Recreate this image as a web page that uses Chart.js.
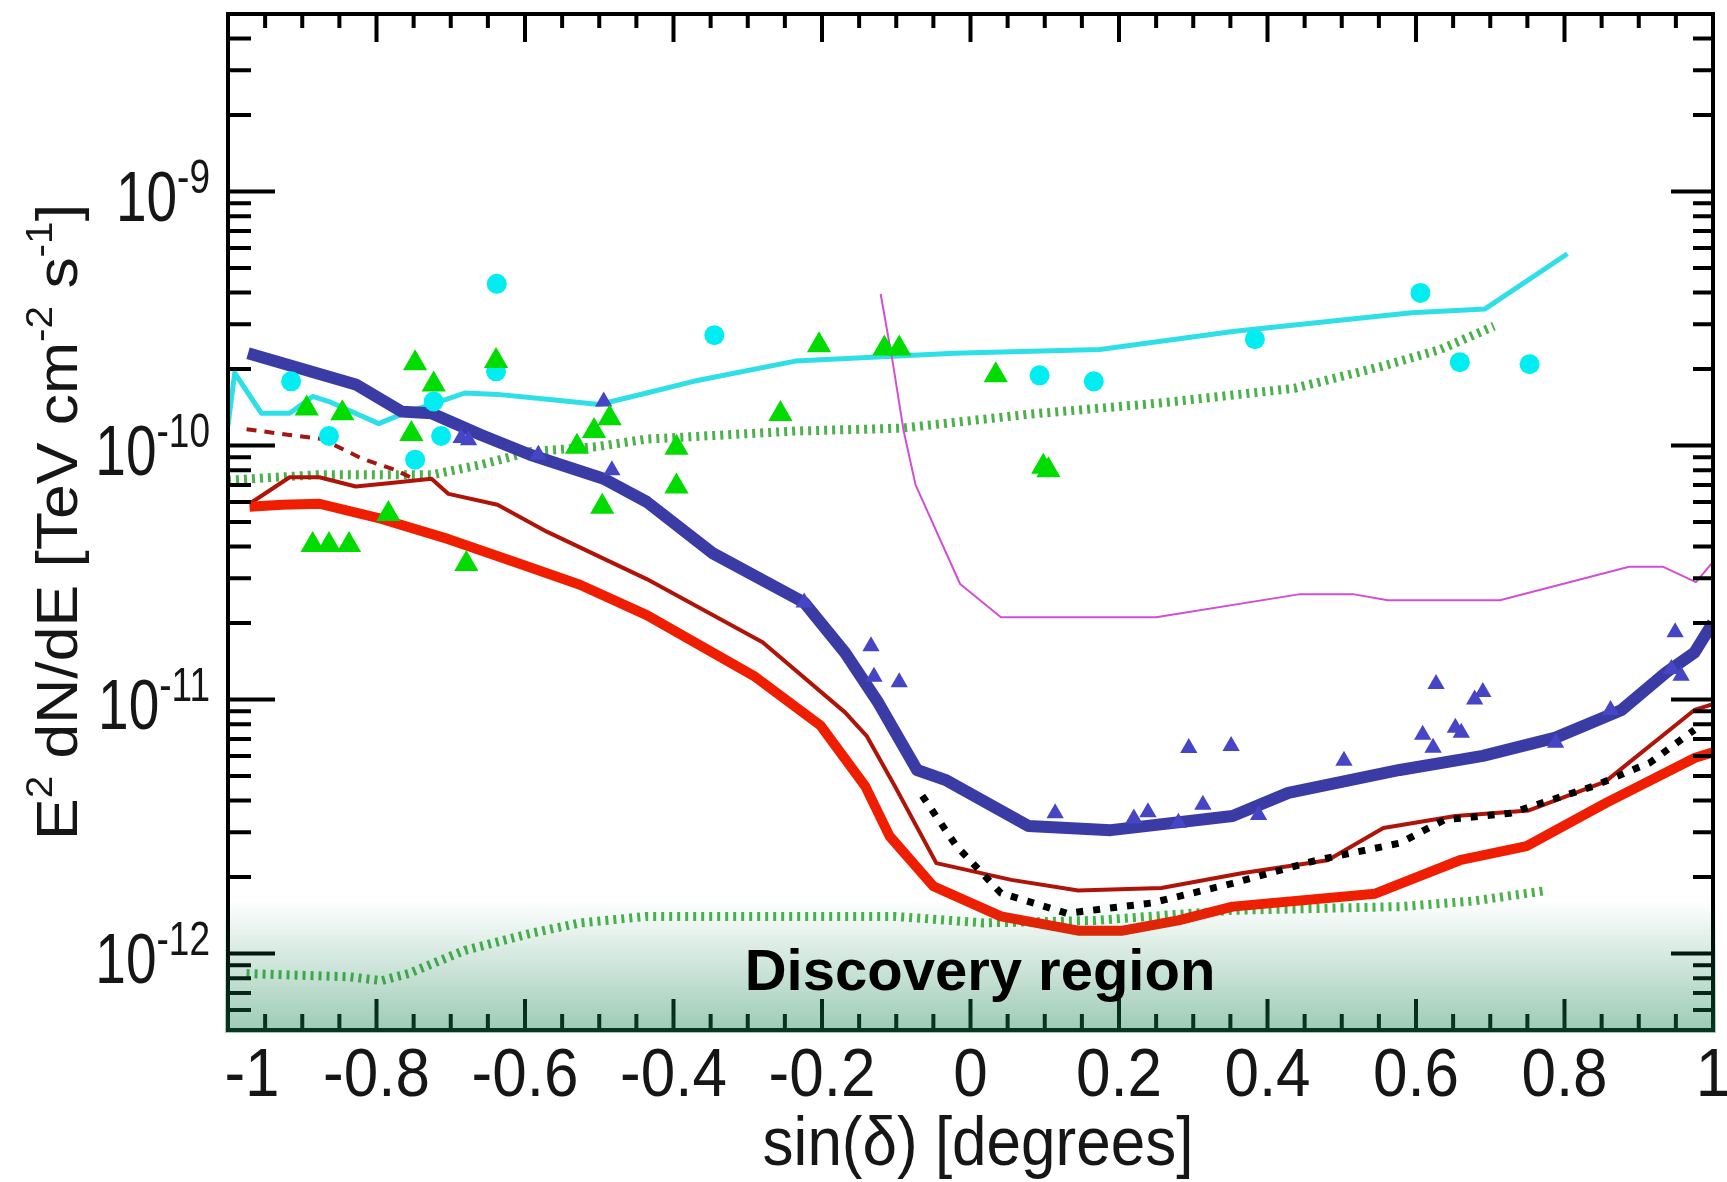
<!DOCTYPE html>
<html>
<head>
<meta charset="utf-8">
<title>E2 dN/dE vs sin(δ)</title>
<script src="https://cdn.jsdelivr.net/npm/chart.js@4.4.0/dist/chart.umd.min.js"></script>
<style>
  html, body { margin: 0; padding: 0; background: #fff; }
  #wrap { position: relative; width: 1727px; height: 1182px; }
</style>
</head>
<body>
<div id="wrap"><canvas id="chart"></canvas></div>
<script>
// axis ranges and labels
const xMin = -1, xMax = 1;
const yMin = 5e-13, yMax = 5e-9;
const xTickValues = [-1, -0.8, -0.6, -0.4, -0.2, 0, 0.2, 0.4, 0.6, 0.8, 1];
const xTickLabels = ['-1', '-0.8', '-0.6', '-0.4', '-0.2', '0', '0.2', '0.4', '0.6', '0.8', '1'];
const yDecades = [-12, -11, -10, -9];
const yDecadeLabels = ['-12', '-11', '-10', '-9'];

// series, [sin(dec), flux]
const cyanLine = [[-1.0, 1.2e-10], [-0.991, 1.93e-10], [-0.955, 1.34e-10], [-0.917, 1.34e-10], [-0.886, 1.56e-10],
  [-0.864, 1.49e-10], [-0.797, 1.22e-10], [-0.766, 1.33e-10], [-0.703, 1.53e-10], [-0.681, 1.61e-10],
  [-0.637, 1.59e-10], [-0.570, 1.52e-10], [-0.500, 1.45e-10], [-0.436, 1.61e-10], [-0.373, 1.79e-10],
  [-0.236, 2.15e-10], [-0.022, 2.31e-10], [0.174, 2.39e-10], [0.356, 2.82e-10], [0.594, 3.33e-10],
  [0.693, 3.45e-10], [0.804, 5.69e-10]];

const cyanPoints = [[-0.915, 1.79e-10], [-0.864, 1.09e-10], [-0.748, 8.8e-11], [-0.723, 1.49e-10],
  [-0.713, 1.09e-10], [-0.639, 1.96e-10], [-0.638, 4.33e-10], [-0.345, 2.72e-10], [0.093, 1.89e-10],
  [0.166, 1.79e-10], [0.383, 2.62e-10], [0.606, 3.99e-10], [0.659, 2.13e-10], [0.753, 2.09e-10]];

const greenPoints = [[-0.894, 1.40e-10], [-0.846, 1.34e-10], [-0.886, 4.06e-11], [-0.864, 4.06e-11],
  [-0.837, 4.06e-11], [-0.784, 5.38e-11], [-0.753, 1.11e-10], [-0.748, 2.11e-10], [-0.723, 1.74e-10],
  [-0.679, 3.42e-11], [-0.639, 2.15e-10], [-0.530, 9.9e-11], [-0.507, 1.14e-10], [-0.486, 1.28e-10],
  [-0.496, 5.74e-11], [-0.396, 9.8e-11], [-0.396, 6.9e-11], [-0.256, 1.33e-10], [-0.204, 2.48e-10],
  [-0.116, 2.41e-10], [-0.096, 2.41e-10], [0.034, 1.89e-10], [0.098, 8.26e-11], [0.105, 8.0e-11]];

const bluePoints = [[-0.686, 1.07e-10], [-0.676, 1.05e-10], [-0.582, 9.2e-11], [-0.494, 1.49e-10],
  [-0.483, 8.0e-11], [-0.224, 2.41e-11], [-0.134, 1.62e-11], [-0.130, 1.23e-11], [-0.096, 1.17e-11],
  [0.114, 3.57e-12], [0.220, 3.4e-12], [0.239, 3.6e-12], [0.280, 3.27e-12], [0.294, 6.45e-12],
  [0.313, 3.85e-12], [0.351, 6.57e-12], [0.388, 3.51e-12], [0.503, 5.74e-12], [0.609, 7.27e-12],
  [0.623, 6.46e-12], [0.627, 1.15e-11], [0.653, 7.74e-12], [0.661, 7.4e-12], [0.679, 1.0e-11],
  [0.690, 1.07e-11], [0.788, 6.76e-12], [0.862, 9.1e-12], [0.944, 1.32e-11], [0.949, 1.84e-11],
  [0.957, 1.24e-11]];

const blueLine = [[-0.973, 2.31e-10], [-0.828, 1.74e-10], [-0.766, 1.36e-10], [-0.726, 1.34e-10],
  [-0.659, 1.10e-10], [-0.593, 9.2e-11], [-0.494, 7.4e-11], [-0.436, 6.0e-11], [-0.348, 3.78e-11],
  [-0.224, 2.41e-11], [-0.169, 1.53e-11], [-0.124, 9.7e-12], [-0.072, 5.28e-12], [-0.034, 4.83e-12],
  [0.078, 3.18e-12], [0.189, 3.06e-12], [0.353, 3.48e-12], [0.428, 4.29e-12], [0.578, 5.28e-12],
  [0.690, 6.0e-12], [0.788, 7.08e-12], [0.877, 9.1e-12], [0.937, 1.28e-11], [0.975, 1.53e-11],
  [1.0, 2.01e-11]];

const redLine = [[-0.971, 5.74e-11], [-0.927, 5.85e-11], [-0.877, 5.9e-11], [-0.793, 5.14e-11],
  [-0.703, 4.28e-11], [-0.614, 3.48e-11], [-0.526, 2.83e-11], [-0.436, 2.15e-11], [-0.292, 1.24e-11],
  [-0.202, 7.9e-12], [-0.142, 4.57e-12], [-0.109, 2.9e-12], [-0.050, 1.84e-12], [0.041, 1.40e-12],
  [0.145, 1.23e-12], [0.205, 1.23e-12], [0.280, 1.35e-12], [0.353, 1.53e-12], [0.545, 1.72e-12],
  [0.659, 2.33e-12], [0.749, 2.65e-12], [0.856, 3.92e-12], [0.976, 5.9e-12], [1.0, 6.2e-12]];

const darkRedLine = [[-0.971, 5.9e-11], [-0.917, 7.5e-11], [-0.877, 7.5e-11], [-0.828, 6.9e-11],
  [-0.784, 7.1e-11], [-0.726, 7.4e-11], [-0.703, 6.45e-11], [-0.637, 5.85e-11], [-0.570, 4.57e-11],
  [-0.436, 2.98e-11], [-0.280, 1.68e-11], [-0.169, 8.9e-12], [-0.140, 7.2e-12], [-0.102, 4.57e-12],
  [-0.046, 2.27e-12], [0.055, 1.95e-12], [0.145, 1.77e-12], [0.257, 1.81e-12], [0.365, 2.07e-12],
  [0.481, 2.33e-12], [0.556, 3.12e-12], [0.653, 3.48e-12], [0.752, 3.66e-12], [0.855, 4.75e-12],
  [0.975, 9.1e-12], [1.0, 9.6e-12]];

const darkRedDashed = [[-0.975, 1.16e-10], [-0.917, 1.10e-10], [-0.873, 1.06e-10], [-0.820, 8.9e-11],
  [-0.774, 8.0e-11], [-0.748, 7.34e-11]];

const magentaLine = [[-0.121, 3.95e-10], [-0.105, 2.15e-10], [-0.090, 1.14e-10], [-0.074, 7.0e-11],
  [-0.014, 2.85e-11], [0.041, 2.11e-11], [0.250, 2.11e-11], [0.444, 2.6e-11], [0.515, 2.6e-11],
  [0.562, 2.46e-11], [0.713, 2.46e-11], [0.887, 3.33e-11], [0.933, 3.33e-11], [0.977, 2.9e-11],
  [1.0, 3.48e-11]];

const blackDotted = [[-0.065, 4.18e-12], [-0.019, 2.65e-12], [0.041, 1.73e-12], [0.130, 1.44e-12],
  [0.243, 1.58e-12], [0.353, 1.89e-12], [0.466, 2.33e-12], [0.578, 2.72e-12], [0.638, 3.36e-12],
  [0.727, 3.57e-12], [0.840, 4.57e-12], [0.915, 5.64e-12], [0.975, 7.6e-12]];

const greenDottedUpper = [[-1.0, 7.3e-11], [-0.881, 7.67e-11], [-0.726, 7.67e-11], [-0.659, 8.41e-11],
  [-0.593, 9.46e-11], [-0.503, 9.9e-11], [-0.436, 1.06e-10], [-0.236, 1.14e-10], [-0.094, 1.17e-10],
  [0.081, 1.33e-10], [0.255, 1.47e-10], [0.436, 1.68e-10], [0.554, 2.05e-10], [0.633, 2.39e-10],
  [0.705, 2.95e-10]];

const greenDottedLower = [[-0.975, 8.34e-13], [-0.837, 8.1e-13], [-0.793, 7.82e-13], [-0.757, 8.34e-13],
  [-0.681, 1.03e-12], [-0.593, 1.2e-12], [-0.526, 1.32e-12], [-0.436, 1.40e-12], [-0.102, 1.40e-12],
  [0.018, 1.32e-12], [0.168, 1.35e-12], [0.353, 1.48e-12], [0.578, 1.53e-12], [0.677, 1.61e-12],
  [0.776, 1.77e-12]];

const toXY = arr => arr.map(p => ({ x: p[0], y: p[1] }));

function lineSet(data, color, width, order, dash) {
    return {
        data: toXY(data), showLine: true, pointRadius: 0, borderColor: color,
        borderWidth: width, borderDash: dash || [], borderJoinStyle: 'round', order
    };
}
function pointSet(data, color, style, radius, order) {
    return {
        data: toXY(data), showLine: false, pointStyle: style, pointRadius: radius,
        backgroundColor: color, borderWidth: 0, order
    };
}

// text drawn with a slight vertical stretch, like the tall Helvetica labels
function stretchText(ctx, text, x, y, align, sy) {
    ctx.save();
    ctx.translate(x, y);
    ctx.scale(1, sy);
    ctx.textAlign = align;
    ctx.fillText(text, 0, 0);
    ctx.restore();
}

const TEXT = '#161616';
const FONT = '"Liberation Sans", Arial, sans-serif';

const framePlugin = {
    id: 'frame',
    afterDraw(chart) {
        const { ctx, chartArea: a, scales: { x, y } } = chart;
        ctx.save();

        // frame + inward ticks on all four sides
        ctx.strokeStyle = '#000';
        ctx.lineWidth = 4;
        ctx.strokeRect(a.left, a.top, a.right - a.left, a.bottom - a.top);
        ctx.beginPath();
        for (let i = 0; i <= 40; i++) {
            const px = x.getPixelForValue(xMin + i * 0.05);
            const major = i % 4 === 0;
            ctx.moveTo(px, a.bottom); ctx.lineTo(px, a.bottom - (major ? 31 : 16));
            ctx.moveTo(px, a.top); ctx.lineTo(px, a.top + (major ? 28 : 14));
        }
        for (let e = -13; e <= -9; e++) {
            for (let m = 1; m <= 9; m++) {
                const v = m * Math.pow(10, e);
                if (v < yMin * 0.999 || v > yMax * 1.001) continue;
                const py = y.getPixelForValue(v);
                const major = m === 1;
                ctx.moveTo(a.left, py); ctx.lineTo(a.left + (major ? 47 : 23), py);
                ctx.moveTo(a.right, py); ctx.lineTo(a.right - (major ? 42 : 20), py);
            }
        }
        ctx.stroke();

        // discovery region shading along the bottom of the plot
        const g = ctx.createLinearGradient(0, 900, 0, a.bottom + 2);
        g.addColorStop(0, 'rgba(20,130,80,0)');
        g.addColorStop(1, 'rgba(20,130,80,0.42)');
        ctx.fillStyle = g;
        ctx.fillRect(a.left - 3, 900, a.right - a.left + 6, a.bottom + 3 - 900);

        ctx.fillStyle = '#000';
        ctx.font = 'bold 58px ' + FONT;
        ctx.textAlign = 'center';
        ctx.fillText('Discovery region', 980, 990);

        // x tick labels
        ctx.fillStyle = TEXT;
        ctx.font = '62px ' + FONT;
        xTickValues.forEach((v, i) => {
            let px = x.getPixelForValue(v);
            if (i === 0) px += 24;
            stretchText(ctx, xTickLabels[i], px, 1096, 'center', 1.12);
        });

        // y tick labels: 10 with a raised exponent
        yDecades.forEach((e, i) => {
            const py = y.getPixelForValue(Math.pow(10, e));
            ctx.font = '37px ' + FONT;
            const supW = ctx.measureText(yDecadeLabels[i]).width;
            stretchText(ctx, yDecadeLabels[i], 210, py + 1, 'right', 1.28);
            ctx.font = '55px ' + FONT;
            stretchText(ctx, '10', 210 - supW, py + 29, 'right', 1.28);
        });

        // x axis title
        ctx.font = '62px ' + FONT;
        stretchText(ctx, 'sin(δ) [degrees]', 978, 1165, 'center', 1.12);

        // y axis title, rotated, with superscripts
        const runs = [['E', 0], ['2', 1], [' dN/dE [TeV cm', 0], ['-2', 1], [' s', 0], ['-1', 1], [']', 0]];
        const baseFont = '57px ' + FONT, supFont = '37px ' + FONT;
        let total = 0;
        runs.forEach(r => { ctx.font = r[1] ? supFont : baseFont; total += ctx.measureText(r[0]).width; });
        const sx = 636 / total;
        ctx.save();
        ctx.translate(77, (a.top + a.bottom) / 2);
        ctx.rotate(-Math.PI / 2);
        ctx.scale(sx, 1);
        ctx.textAlign = 'left';
        let cx = -total / 2;
        runs.forEach(r => {
            ctx.font = r[1] ? supFont : baseFont;
            ctx.fillText(r[0], cx, r[1] ? -25 : 0);
            cx += ctx.measureText(r[0]).width;
        });
        ctx.restore();

        ctx.restore();
    }
};

new Chart(document.getElementById('chart'), {
    type: 'scatter',
    data: {
        datasets: [
            pointSet(greenPoints, '#00dc00', 'triangle', 14, 0),
            pointSet(bluePoints, '#4545c6', 'triangle', 10, 1),
            pointSet(cyanPoints, '#00eef2', 'circle', 10, 2),
            lineSet(blackDotted, '#000', 7, 3, [7, 10]),
            lineSet(blueLine, '#3b3ba6', 12, 4),
            lineSet(redLine, '#f01e00', 10, 5),
            lineSet(darkRedLine, '#b01408', 4, 6),
            lineSet(darkRedDashed, '#a01810', 4, 7, [10, 8]),
            lineSet(magentaLine, '#d24ed2', 2, 8),
            lineSet(cyanLine, '#2fdfe8', 5, 9),
            lineSet(greenDottedUpper, '#4bb24b', 9, 10, [3, 5]),
            lineSet(greenDottedLower, '#4bb24b', 9, 11, [3, 5])
        ]
    },
    options: {
        responsive: true,
        maintainAspectRatio: false,
        animation: false,
        layout: { padding: { left: 228, right: 0, top: 12, bottom: 152 } },
        plugins: { legend: { display: false }, tooltip: { enabled: false } },
        scales: {
            x: { type: 'linear', min: xMin, max: xMax, display: false },
            y: { type: 'logarithmic', min: yMin, max: yMax, display: false }
        }
    },
    plugins: [framePlugin]
});
</script>
</body>
</html>
